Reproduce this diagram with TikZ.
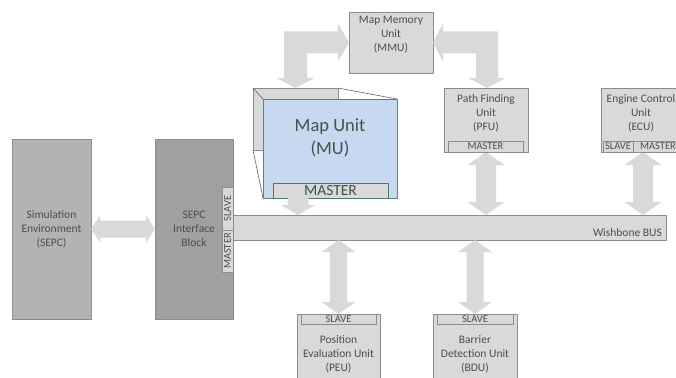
\documentclass[tikz,border=0pt]{standalone}
\usepackage{fontspec}
\setmainfont{Carlito}
\usetikzlibrary{calc}
\definecolor{boxfill}{HTML}{D9D9D9}
\definecolor{boxline}{HTML}{8C8C8C}
\definecolor{arrowfill}{HTML}{D9D9D9}
\definecolor{simfill}{HTML}{B3B3B3}
\definecolor{sepcfill}{HTML}{A0A0A0}
\definecolor{txt}{HTML}{4D4D4D}
\definecolor{mufill}{HTML}{C6D9F1}
\definecolor{muline}{HTML}{4F7A5E}
\definecolor{mutext}{HTML}{3B5648}

% vertical two-headed block arrow: x source, upper anchor, lower anchor,
% shaft half width, head half width, head length (pt)
\newcommand\vdblarrow[6]{%
  \fill[blockarrow] let \p3=#1, \p1=#2, \p2=#3 in
    (\x3,\y1) -- (\x3+#5pt,\y1-#6pt) -- (\x3+#4pt,\y1-#6pt) -- (\x3+#4pt,\y2+#6pt)
    -- (\x3+#5pt,\y2+#6pt) -- (\x3,\y2) -- (\x3-#5pt,\y2+#6pt) -- (\x3-#4pt,\y2+#6pt)
    -- (\x3-#4pt,\y1-#6pt) -- (\x3-#5pt,\y1-#6pt) -- cycle;}

\begin{document}
\begin{tikzpicture}[x=1pt,y=-1pt,
  box/.style={draw=boxline, fill=boxfill, line width=0.8pt, inner sep=0pt,
    outer sep=0pt, anchor=north west},
  strip/.style={draw=boxline, fill=boxfill, line width=0.7pt, inner sep=0pt,
    outer sep=0pt, anchor=north west, text=txt,
    font=\fontsize{10.5}{11}\selectfont},
  lbl/.style={align=center, text=txt, inner sep=0pt,
    font=\fontsize{11.5}{14}\selectfont},
  blockarrow/.style={fill=arrowfill}]
\useasboundingbox (0,0) rectangle (676,377);
\clip (0,0) rectangle (676,377);

% ---- blocks ----
\node[box, fill=simfill, minimum width=79pt, minimum height=180pt] (sim) at (12,139) {};
\node[box, fill=sepcfill, minimum width=78pt, minimum height=180pt] (sepc) at (155,139) {};
\node[box, minimum width=433pt, minimum height=25pt] (bus) at (233,215) {};
\node[box, minimum width=84pt, minimum height=61pt] (mmu) at (349,12) {};
\node[box, minimum width=84pt, minimum height=64pt] (pfu) at (444,88) {};
\node[box, minimum width=82pt, minimum height=64pt] (ecu) at (601,88) {};
\node[box, minimum width=83pt, minimum height=70pt] (peu) at (297,314) {};
\node[box, minimum width=84pt, minimum height=70pt] (bdu) at (433,314) {};
\coordinate (ecux) at (643,152);
\coordinate (mudown) at (298,198);

% ---- block arrows ----
% Simulation environment <-> SEPC interface
\fill[blockarrow] let \p1=(sim.east), \p2=(sepc.west) in
  (\p1) -- (\x1+9pt,\y1+13.5pt) -- (\x1+9pt,\y1+8.5pt) -- (\x2-9pt,\y1+8.5pt)
  -- (\x2-9pt,\y1+13.5pt) -- (\x2,\y1) -- (\x2-9pt,\y1-13.5pt) -- (\x2-9pt,\y1-8.5pt)
  -- (\x1+9pt,\y1-8.5pt) -- (\x1+9pt,\y1-13.5pt) -- cycle;
% units <-> bus
\vdblarrow{(pfu.south)}{(pfu.south)}{(bus.north)}{10}{18.5}{13}
\vdblarrow{(ecux)}{(ecu.south)}{(bus.north)}{10}{18.5}{13}
\vdblarrow{(peu.north)}{(bus.south)}{(peu.north)}{8.5}{17}{12}
\vdblarrow{(bdu.north)}{(bus.south)}{(bdu.north)}{8.5}{17}{12}

% ---- map unit (drawn as an open box) ----
\node[box, line width=0.6pt, minimum width=85pt, minimum height=62pt] (mub) at (253,88) {};
\draw[boxline!70!black, line width=0.6pt] (mub.north west) -- (263,99);
\draw[boxline!70!black, line width=0.6pt] (mub.north east) -- (397,99);
\draw[boxline!70!black, line width=0.6pt] (mub.south west) -- (263,198);
\node[box, draw=muline!60!boxline, fill=mufill, line width=0.7pt,
  minimum width=134pt, minimum height=99pt] (muf) at (263,99) {};
\node[box, draw=muline, line width=0.9pt, minimum width=115pt, minimum height=15pt,
  text=mutext, font=\fontsize{15.5}{16}\selectfont] (mum) at (273,183) {MASTER};
\node[text=mutext, align=center, inner sep=0pt, font=\fontsize{18.5}{23}\selectfont]
  (mulbl) at (330,138) {Map Unit\\(MU)};

% MMU <-> map unit and MMU <-> path finding unit
\fill[blockarrow] let \p1=(mmu.west), \p2=(mub.north) in
  (\p1) -- (\x1-11pt,\y1+19pt) -- (\x1-11pt,\y1+11pt) -- (\x2-11.5pt,\y1+11pt)
  -- (\x2-11.5pt,\y2+10pt) -- (\x2-19pt,\y2+10pt) -- (\x2,\y2) -- (\x2+19pt,\y2+10pt)
  -- (\x2+11.5pt,\y2+10pt) -- (\x2+11.5pt,\y1-11pt) -- (\x1-11pt,\y1-11pt)
  -- (\x1-11pt,\y1-19pt) -- cycle;
\fill[blockarrow] let \p1=(mmu.east), \p2=(pfu.north) in
  (\p1) -- (\x1+10pt,\y1+19pt) -- (\x1+10pt,\y1+11pt) -- (\x2+12pt,\y1+11pt)
  -- (\x2+12pt,\y2+10pt) -- (\x2+19.5pt,\y2+10pt) -- (\x2+1pt,\y2) -- (\x2-17.5pt,\y2+10pt)
  -- (\x2-10pt,\y2+10pt) -- (\x2-10pt,\y1-11pt) -- (\x1+10pt,\y1-11pt)
  -- (\x1+10pt,\y1-19pt) -- cycle;
% map unit -> bus
\fill[blockarrow] let \p1=(mudown), \p2=(bus.north) in
  (\x1-10.5pt,\y1) -- (\x1+10.5pt,\y1) -- (\x1+10.5pt,\y2+10pt) -- (\x1+17pt,\y2+10pt)
  -- (\x1,\y2) -- (\x1-17pt,\y2+10pt) -- (\x1-10.5pt,\y2+10pt) -- cycle;

% ---- port strips ----
\node[strip, minimum width=11pt, minimum height=43pt] (sslave) at (222,187) {};
\node[strip, minimum width=11pt, minimum height=42pt] (smaster) at (222,230) {};
\node[rotate=90, text=txt, inner sep=0pt, font=\fontsize{10.5}{11}\selectfont] at (sslave.center) {SLAVE};
\node[rotate=90, text=txt, inner sep=0pt, font=\fontsize{10.5}{11}\selectfont] at (smaster.center) {MASTER};
\node[strip, minimum width=75pt, minimum height=11pt] (pfum) at (448,141) {MASTER};
\node[strip, minimum width=30pt, minimum height=11pt] (ecus) at (603,141) {SLAVE};
\node[strip, minimum width=50pt, minimum height=11pt] (ecum) at (633,141) {MASTER};
\node[strip, minimum width=75pt, minimum height=10pt] (peus) at (301,314) {SLAVE};
\node[strip, minimum width=76pt, minimum height=10pt] (bdus) at (437,314) {SLAVE};

% ---- labels ----
\node[lbl] at (sim.center) {Simulation\\Environment\\(SEPC)};
\node[lbl] at (sepc.center) {SEPC\\Interface\\Block};
\node[lbl] at (391,35) {Map Memory\\Unit\\(MMU)};
\node[lbl] at (486,113) {Path Finding\\Unit\\(PFU)};
\node[lbl] at (641,113) {Engine Control\\Unit\\(ECU)};
\node[lbl] at (338.5,354) {Position\\Evaluation Unit\\(PEU)};
\node[lbl] at (475,354) {Barrier\\Detection Unit\\(BDU)};
\node[text=txt, inner sep=0pt, anchor=base east, font=\fontsize{11.5}{14}\selectfont]
  at (662,236) {Wishbone BUS};
\end{tikzpicture}
\end{document}
